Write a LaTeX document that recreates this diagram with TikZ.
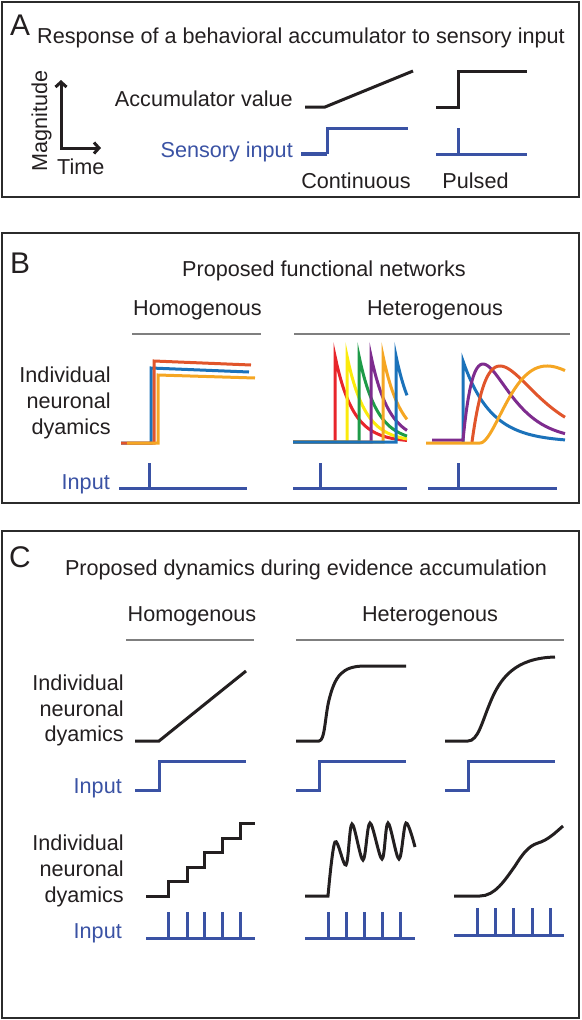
\documentclass[tikz,border=0pt]{standalone}
\usepackage{fontspec}
\setmainfont{Liberation Sans}
\usetikzlibrary{arrows.meta}
\definecolor{txtblack}{HTML}{231F20}
\definecolor{inblue}{HTML}{3A52A4}
\definecolor{sepgray}{HTML}{7F7F7F}
\definecolor{boxgray}{HTML}{2B2B2B}
\definecolor{tred}{HTML}{E8252B}
\definecolor{tyellow}{HTML}{FBEA0C}
\definecolor{tgreen}{HTML}{1E9B48}
\definecolor{tpurple}{HTML}{7E2C8E}
\definecolor{torange}{HTML}{F5A623}
\definecolor{tblue}{HTML}{1B72BA}
\definecolor{tredor}{HTML}{E1552B}
\begin{document}
\begin{tikzpicture}[x=1bp,y=-1bp,
  panel/.style={draw=boxgray, line width=1.8bp},
  txt/.style={font=\fontsize{21.7}{26}\selectfont, inner sep=0pt, text=txtblack},
  btxt/.style={txt, text=inblue},
  plabel/.style={font=\fontsize{30}{32}\selectfont, inner sep=0pt, text=txtblack},
  sepline/.style={draw=sepgray, line width=1.4bp},
  trace/.style={draw=txtblack, line width=3bp, line join=miter},
  inp/.style={draw=inblue, line width=3bp},
  ctrace/.style={line width=3bp},
  axisarrow/.style={draw=txtblack, line width=3bp, {Straight Barb[length=5bp,width=11bp]}-{Straight Barb[length=5bp,width=11bp]}}
]
\useasboundingbox (0,0) rectangle (582,1020);

% ---------------- Panel A ----------------
\draw[panel] (2,2) rectangle (579,197);
\node[plabel, anchor=base west] (labA) at (10,35) {A};
\node[txt, anchor=base west] (titleA) at (37,43) {Response of a behavioral accumulator to sensory input};
\coordinate (axtop) at (61,80);
\coordinate (axorig) at (61,148);
\coordinate (axright) at (101,148);
\draw[axisarrow] (axtop) -- (axorig) -- (axright);
\node[txt, anchor=base west, rotate=90] (magn) at (47,172) {Magnitude};
\node[txt, anchor=base west] (timeA) at (57,174) {Time};
\node[txt, anchor=base east] (accval) at (293,106) {Accumulator value};
\node[btxt, anchor=base east] (sensin) at (293,157) {Sensory input};
\draw[trace] (305,107) -- (325,107) -- (413,71);
\draw[trace] (436,107) -- (458,107) -- (458,71) -- (527,71);
\draw[inp, line width=4bp] (301,154) -- (327,154);
\draw[inp] (327,154) -- (327,128) -- (408,128);
\draw[inp] (436,154) -- (527,154);
\draw[inp] (458,154) -- (458,128);
\node[txt, anchor=base] (contA) at (356,188) {Continuous};
\node[txt, anchor=base] (pulsA) at (475.5,188) {Pulsed};

% ---------------- Panel B ----------------
\draw[panel] (2,233) rectangle (579,503);
\node[plabel, anchor=base west] (labB) at (10,273) {B};
\node[txt, anchor=base] (titleB) at (324,276) {Proposed functional networks};
\node[txt, anchor=base] (homB) at (197.5,315) {Homogenous};
\node[txt, anchor=base] (hetB) at (435,315) {Heterogenous};
\draw[sepline] (132,334) -- (261,334);
\draw[sepline] (294,334) -- (570,334);
\node[txt, anchor=base east] (indB) at (111,382) {Individual};
\node[txt, anchor=base east] (neuB) at (111,408) {neuronal};
\node[txt, anchor=base east] (dyaB) at (111,434) {dyamics};
\node[btxt, anchor=base east] (inpB) at (110,489) {Input};
% homogeneous
\draw[ctrace, tblue] (121,443) -- (151,443) -- (151,368) -- (249,372);
\draw[ctrace, tredor] (121,443) -- (154,443) -- (154,361) -- (251,365);
\draw[ctrace, torange] (127,443) -- (158,443) -- (158,375) -- (255,378);
% heterogeneous 1
\foreach \xs/\col in {335/tred,347/tyellow,359/tgreen,371/tpurple,383/torange,396/tblue}{
  \draw[ctrace, \col] (293,442) -- (\xs,442) -- (\xs,356)
     -- plot[domain=\xs:407, samples=40] (\x, {442-86*exp(-(\x-\xs)/18)});
}
% heterogeneous 2
\draw[ctrace, tblue] (463,442) -- (463,361)
   -- plot[domain=463:565, samples=50] (\x, {442-81*exp(-(\x-463)/28)});
\draw[ctrace, tpurple] (432,440) -- (463,440)
   -- plot[domain=463:565, samples=60] (\x, {440-76*((\x-463)/20)*exp(1-(\x-463)/20)});
\draw[ctrace, tredor] (472,442)
   -- plot[domain=472:565, samples=60] (\x, {442-76*((\x-472)/28)*exp(1-(\x-472)/28)});
\draw[ctrace, torange] (426,443) -- (480,443)
   -- plot[domain=480:565, samples=60] (\x, {443-77*((\x-480)/67)^2*exp(2-2*(\x-480)/67)});
% inputs
\draw[inp] (119,488) -- (247,488);
\draw[inp] (149,488) -- (149,463);
\draw[inp] (293,488) -- (407,488);
\draw[inp] (320,488) -- (320,463);
\draw[inp] (428,488) -- (557,488);
\draw[inp] (458,488) -- (458,463);

% ---------------- Panel C ----------------
\draw[panel] (2,531) rectangle (579,1018);
\node[plabel, anchor=base west] (labC) at (9,567) {C};
\node[txt, anchor=base] (titleC) at (306,575) {Proposed dynamics during evidence accumulation};
\node[txt, anchor=base] (homC) at (192,621) {Homogenous};
\node[txt, anchor=base] (hetC) at (430,621) {Heterogenous};
\draw[sepline] (126,640) -- (254,640);
\draw[sepline] (296,640) -- (564,640);
\node[txt, anchor=base east] (indC1) at (124,690) {Individual};
\node[txt, anchor=base east] (neuC1) at (124,716) {neuronal};
\node[txt, anchor=base east] (dyaC1) at (124,741) {dyamics};
\node[btxt, anchor=base east] (inpC1) at (122,793) {Input};
\draw[trace] (135,741) -- (159,741) -- (246,671);
\draw[trace] (296,741) -- (319,741) .. controls (325,741) and (325,716) .. (329,700)
   .. controls (335,676) and (342,666) .. (365,666) -- (406,666);
\draw[trace] (445,741) -- (468,741) .. controls (478,741) and (482,722) .. (490,703)
   .. controls (500,678) and (515,658) .. (555,657);
\draw[inp] (135,790) -- (159,790) -- (159,761) -- (246,761);
\draw[inp] (296,790) -- (319,790) -- (319,761) -- (406,761);
\draw[inp] (445,790) -- (468,790) -- (468,761) -- (555,761);

\node[txt, anchor=base east] (indC2) at (124,850) {Individual};
\node[txt, anchor=base east] (neuC2) at (124,876) {neuronal};
\node[txt, anchor=base east] (dyaC2) at (124,902) {dyamics};
\node[btxt, anchor=base east] (inpC2) at (122,938) {Input};
\draw[trace] (146,896) -- (168,896) -- (168,881) -- (187,881) -- (187,867) -- (204,867)
   -- (204,852) -- (222,852) -- (222,838) -- (240,838) -- (240,823) -- (255,823);
\draw[trace] (305,896) -- (328,896)
   -- plot[smooth, tension=0.55] coordinates {(328,896) (335,842) (346,865) (352,824) (363,860) (370,823) (382,859) (388,823) (399,859) (406,823) (415,847)};
\draw[trace] (454,896) -- (480,896) .. controls (495,896) and (505,880) .. (515,866)
   .. controls (522,855) and (528,846) .. (538,843) .. controls (548,840) and (555,833) .. (563,826);
\draw[inp] (146,938) -- (255,938);
\foreach \xs in {168,187,204,222,240}{\draw[inp] (\xs,938) -- (\xs,912);}
\draw[inp] (305,938) -- (415,938);
\foreach \xs in {328,346,364,382,400}{\draw[inp] (\xs,938) -- (\xs,912);}
\draw[inp] (454,935) -- (564,935);
\foreach \xs in {477,495,513,532,550}{\draw[inp] (\xs,935) -- (\xs,908);}
\end{tikzpicture}
\end{document}
